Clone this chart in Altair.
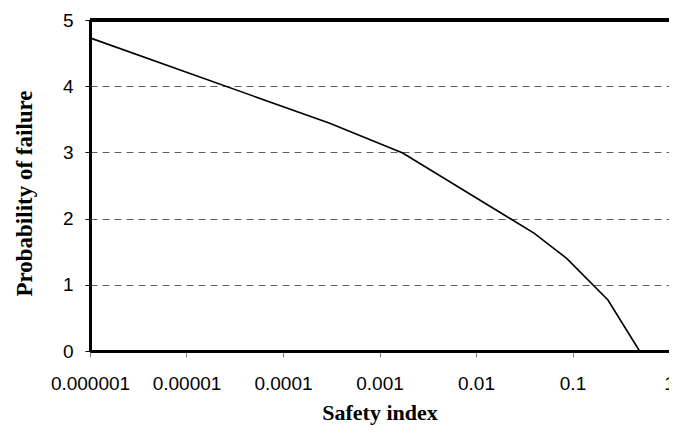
import altair as alt
import pandas as pd

# Data
pf = [0.000001, 0.000305, 0.00174, 0.0399, 0.0869, 0.233, 0.495]
beta = [4.73, 3.44, 2.99, 1.78, 1.40, 0.77, 0.0]
x_ticks = [0.000001, 0.00001, 0.0001, 0.001, 0.01, 0.1, 1]
y_ticks = [0, 1, 2, 3, 4, 5]

df = pd.DataFrame({"pf": pf, "beta": beta})

xscale = alt.Scale(type="log", domain=[1e-6, 1])
yscale = alt.Scale(domain=[0, 5], nice=False)

line = alt.Chart(df).mark_line(color="black", strokeWidth=1.6).encode(
    x=alt.X("pf:Q", scale=xscale, title="Safety index",
            axis=alt.Axis(values=x_ticks, format=".6~f", grid=False,
                          domain=True, domainColor="black", domainWidth=3,
                          tickSize=6, tickColor="#808080", tickWidth=1,
                          labelFont="Liberation Sans", labelFontSize=19,
                          labelColor="black", labelPadding=17, labelFlush=False,
                          labelOverlap=False,
                          titleFont="Liberation Serif", titleFontSize=22,
                          titleFontWeight="bold", titleColor="black",
                          titlePadding=9)),
    y=alt.Y("beta:Q", scale=yscale, title="Probability of failure",
            axis=alt.Axis(values=y_ticks, format="d", grid=True, gridDash=[7, 5],
                          gridColor="#606060", gridWidth=1,
                          domain=True, domainColor="black", domainWidth=3,
                          tickSize=5, tickColor="black", tickWidth=1,
                          labelFont="Liberation Sans", labelFontSize=19,
                          labelColor="black", labelPadding=12,
                          titleFont="Liberation Serif", titleFontSize=23,
                          titleFontWeight="bold", titleColor="black",
                          titlePadding=26, titleY=173)),
    order=alt.Order("beta:Q", sort="descending"),
)

top_border = alt.Chart(df).mark_rule(color="black", strokeWidth=3).encode(
    x=alt.datum(x_ticks[0], scale=xscale),
    x2=alt.datum(x_ticks[-1]),
    y=alt.datum(y_ticks[-1], scale=yscale),
)

chart = alt.layer(line, top_border).properties(
    width=579, height=331,
    padding={"left": 82, "top": 12, "right": 0, "bottom": 75},
    autosize=alt.AutoSizeParams(type="none"),
).configure_view(stroke="black", strokeWidth=1)

chart.save("out.html", embed_options={"renderer": "svg", "actions": False})
